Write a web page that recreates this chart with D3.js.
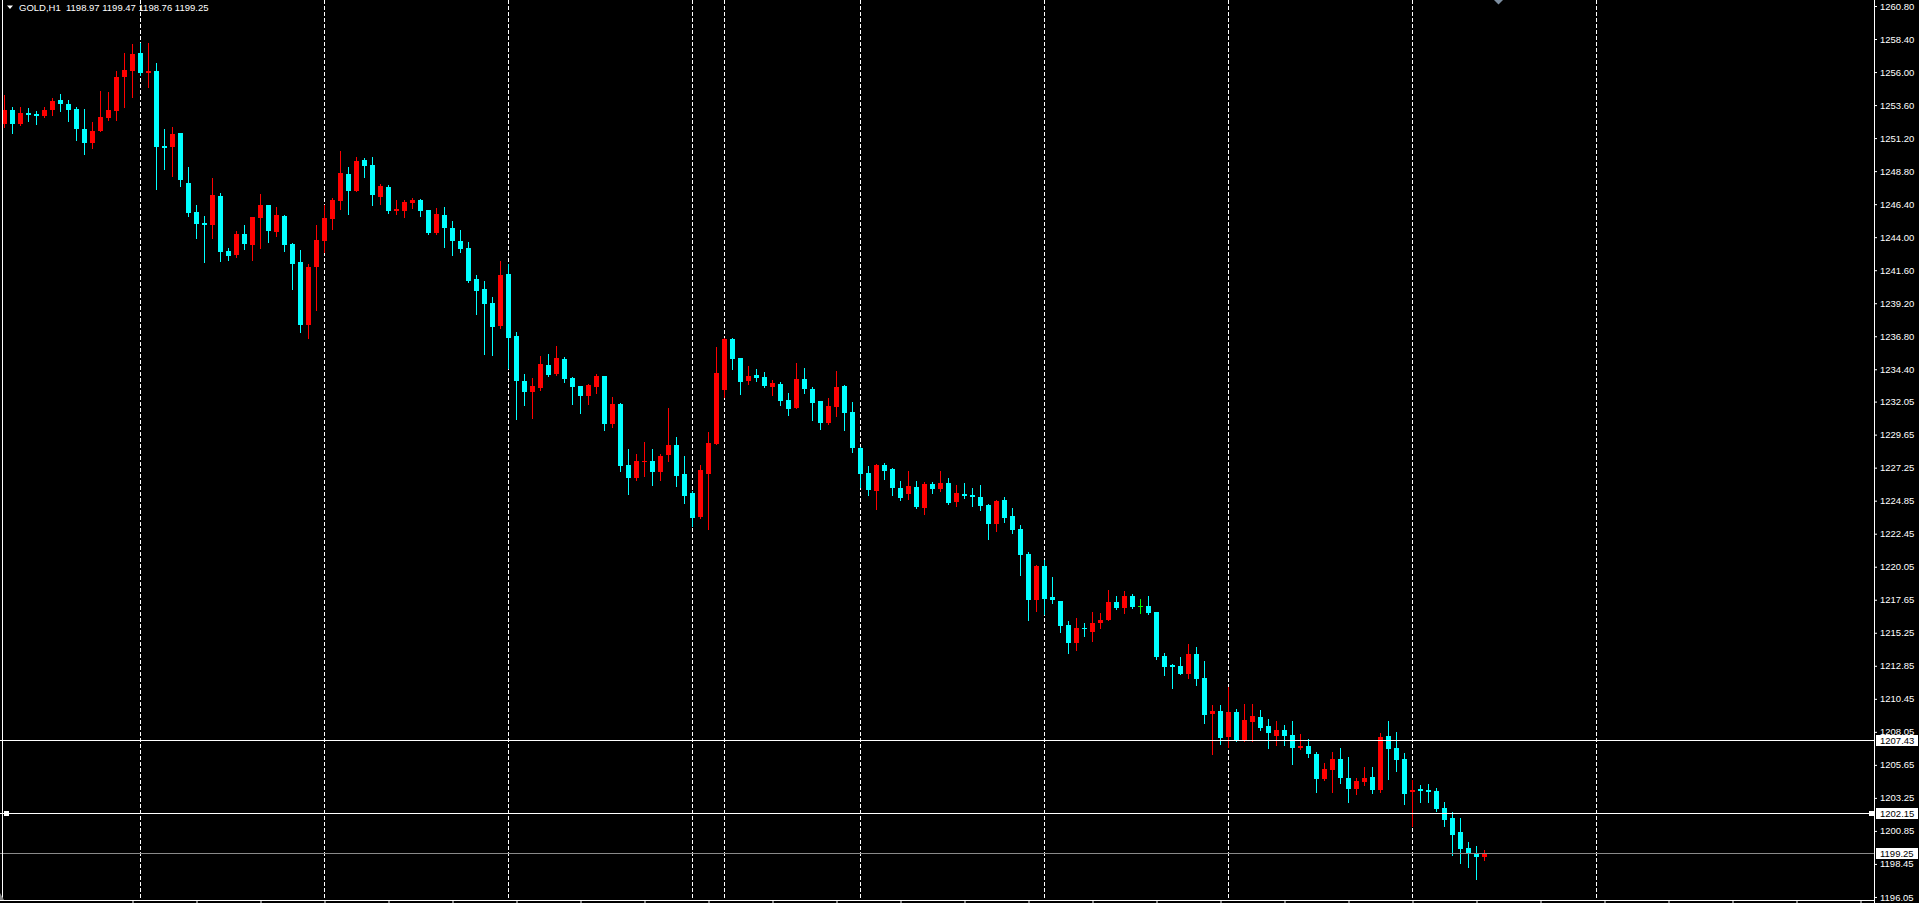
<!DOCTYPE html>
<html><head><meta charset="utf-8">
<script src="https://cdn.jsdelivr.net/npm/d3@7"></script>
<style>html,body{margin:0;padding:0;background:#000;overflow:hidden}svg{display:block}
text{font-family:"Liberation Sans",Arial,sans-serif;}</style>
</head><body><svg id="c" width="1919" height="903"></svg>
<script>
const symbolTitle = "GOLD,H1";
const lastOHLC = ["1198.97","1199.47","1198.76","1199.25"];

const opens = [
1252.23,1253.24,1252.23,1253.03,1252.96,1252.81,1253.24,1253.97,1253.68,1253.32,
1251.86,1250.85,1251.72,1252.67,1253.17,1255.64,1256.08,1257.39,1255.94,1256.08,
1250.65,1250.58,1251.57,1247.94,1245.83,1245.06,1244.89,1247.00,1243.00,1242.71,
1244.24,1243.44,1245.40,1246.34,1244.38,1245.54,1243.51,1242.20,1237.62,1241.84,
1243.73,1245.33,1246.63,1248.60,1247.36,1249.61,1249.25,1246.92,1247.65,1245.91,
1245.91,1246.49,1246.71,1245.98,1244.31,1245.62,1244.67,1243.73,1243.22,1240.96,
1240.24,1239.22,1237.55,1241.33,1236.82,1233.55,1232.75,1233.04,1234.72,1234.06,
1235.15,1233.77,1233.19,1232.46,1233.12,1233.92,1230.43,1231.88,1227.45,1226.50,
1227.72,1227.74,1226.94,1228.18,1228.90,1226.79,1225.41,1223.67,1226.79,1228.97,
1232.90,1236.61,1235.22,1233.55,1233.99,1233.84,1233.12,1233.34,1232.17,1231.59,
1233.70,1232.97,1232.09,1230.50,1231.66,1233.19,1231.30,1228.68,1226.86,1225.56,
1227.45,1227.16,1225.78,1225.34,1225.85,1224.32,1226.07,1225.70,1226.14,1224.76,
1225.34,1225.27,1225.12,1224.54,1223.16,1224.91,1223.74,1222.80,1220.98,1217.64,
1220.11,1217.86,1217.57,1215.82,1214.51,1215.60,1215.31,1215.97,1216.19,1217.49,
1217.06,1217.93,1217.20,1217.20,1216.77,1213.56,1212.91,1212.84,1212.26,1213.71,
1211.97,1209.35,1209.57,1207.68,1209.50,1207.46,1208.77,1209.13,1208.48,1207.75,
1208.19,1207.82,1206.88,1207.02,1206.44,1204.62,1205.28,1206.08,1204.70,1203.90,
1204.41,1204.77,1203.83,1207.75,1206.88,1206.08,1203.68,1203.90,1203.83,1203.75,
1202.52,1201.79,1200.77,1199.61,1199.25,1198.97];

const highs = [
1254.33,1253.44,1253.44,1253.39,1253.17,1253.44,1254.12,1254.41,1253.97,1253.44,
1253.32,1252.37,1254.63,1254.55,1256.08,1257.39,1258.04,1258.12,1258.12,1256.66,
1251.86,1252.01,1251.57,1249.10,1246.34,1245.54,1248.30,1247.22,1243.22,1244.45,
1244.89,1245.47,1247.14,1246.34,1246.20,1245.62,1243.58,1243.07,1242.05,1244.89,
1246.34,1246.85,1250.27,1249.10,1249.83,1249.76,1249.83,1247.87,1247.80,1246.71,
1246.71,1246.85,1246.78,1245.98,1246.13,1246.20,1245.18,1244.53,1243.65,1241.26,
1240.82,1239.66,1242.27,1242.05,1237.11,1234.06,1233.77,1235.37,1235.51,1236.10,
1235.30,1233.84,1233.19,1233.34,1234.06,1233.92,1232.39,1231.95,1228.61,1228.25,
1229.12,1228.61,1228.25,1231.59,1229.48,1228.10,1225.56,1227.45,1229.85,1236.02,
1236.68,1236.68,1235.22,1234.64,1234.42,1234.20,1233.62,1233.48,1232.68,1234.86,
1234.50,1233.12,1232.09,1232.32,1234.28,1233.26,1232.03,1228.76,1227.38,1227.52,
1227.59,1227.23,1226.29,1227.01,1226.29,1226.21,1226.21,1227.01,1226.50,1226.00,
1226.14,1225.78,1226.00,1224.61,1224.91,1225.12,1224.32,1223.09,1221.13,1220.18,
1220.55,1219.31,1217.57,1216.11,1216.33,1215.97,1216.77,1216.69,1218.37,1217.93,
1218.29,1218.07,1217.71,1217.93,1216.77,1213.79,1212.98,1213.49,1214.44,1214.22,
1213.20,1210.00,1210.00,1211.31,1209.71,1210.08,1210.08,1209.64,1208.99,1208.84,
1208.55,1208.84,1207.90,1207.53,1206.59,1205.79,1206.59,1206.88,1206.22,1204.70,
1205.50,1205.50,1207.97,1208.84,1208.04,1206.52,1204.55,1204.19,1204.26,1203.97,
1202.95,1202.23,1201.79,1200.05,1199.76,1199.47];

const lows = [
1252.03,1251.59,1252.16,1252.47,1252.25,1252.74,1252.88,1253.17,1252.47,1251.06,
1250.05,1250.49,1251.72,1252.52,1252.52,1253.46,1254.19,1255.79,1254.92,1247.51,
1248.96,1248.45,1247.72,1245.54,1243.94,1242.20,1243.94,1242.27,1242.35,1242.56,
1243.15,1242.35,1243.22,1243.65,1244.09,1243.00,1240.24,1237.11,1236.68,1238.71,
1242.93,1244.60,1246.05,1245.69,1247.36,1248.38,1246.34,1246.42,1245.76,1245.69,
1245.47,1246.13,1245.54,1244.24,1244.24,1243.29,1242.71,1242.93,1240.75,1238.42,
1235.51,1235.44,1237.40,1234.50,1230.79,1231.81,1230.86,1232.90,1233.92,1233.99,
1233.48,1231.88,1231.23,1231.88,1232.68,1229.99,1230.21,1227.01,1225.34,1226.36,
1226.65,1226.00,1226.36,1227.74,1225.92,1224.69,1223.01,1223.60,1222.80,1228.97,
1232.39,1234.42,1232.61,1233.34,1233.55,1233.12,1232.53,1231.81,1231.08,1231.59,
1232.68,1230.72,1230.06,1230.43,1231.01,1229.99,1228.39,1225.85,1225.27,1224.25,
1226.43,1225.27,1224.91,1224.98,1224.32,1223.89,1225.41,1225.56,1224.61,1224.47,
1225.05,1224.47,1224.17,1222.07,1222.65,1223.30,1222.50,1219.45,1216.19,1216.84,
1216.62,1217.42,1215.31,1213.79,1214.00,1215.02,1214.66,1215.60,1216.19,1216.98,
1216.69,1217.06,1216.69,1216.62,1213.35,1212.18,1211.24,1212.26,1211.97,1211.46,
1208.70,1206.44,1207.17,1206.95,1207.39,1207.39,1207.39,1208.19,1206.88,1207.10,
1207.10,1205.72,1206.81,1206.22,1203.68,1204.55,1203.68,1204.33,1202.95,1203.54,
1204.19,1203.61,1203.68,1204.62,1205.21,1202.81,1201.21,1202.95,1202.95,1202.30,
1201.21,1199.10,1198.52,1198.23,1197.36,1198.76];

const closes = [
1253.24,1252.23,1253.03,1252.88,1252.81,1253.24,1253.90,1253.68,1253.24,1251.86,
1250.85,1251.72,1252.74,1253.24,1255.64,1256.15,1257.32,1255.94,1256.08,1250.58,
1250.51,1251.50,1248.16,1245.76,1244.96,1244.91,1247.07,1242.93,1242.64,1244.24,
1243.51,1245.47,1246.34,1244.45,1245.62,1243.44,1242.05,1237.62,1241.84,1243.80,
1245.40,1246.71,1248.67,1247.36,1249.54,1249.18,1247.07,1247.72,1245.91,1246.05,
1246.56,1246.71,1245.91,1244.31,1245.69,1244.67,1243.73,1243.15,1240.82,1240.09,
1239.15,1237.48,1241.26,1236.68,1233.55,1232.75,1233.19,1234.79,1233.99,1235.22,
1233.70,1233.12,1232.46,1233.26,1233.92,1230.43,1231.88,1227.38,1226.50,1227.74,
1227.76,1226.94,1228.10,1228.90,1226.65,1225.20,1223.60,1227.09,1229.05,1234.13,
1236.61,1235.15,1233.48,1233.92,1233.77,1233.19,1233.40,1232.09,1231.51,1233.70,
1232.97,1231.95,1230.50,1231.74,1233.12,1231.23,1228.68,1226.79,1225.63,1227.45,
1227.01,1225.78,1225.05,1225.92,1224.40,1226.07,1225.70,1226.14,1224.69,1225.41,
1225.20,1225.12,1224.47,1223.16,1224.83,1223.60,1222.72,1220.91,1217.64,1220.11,
1217.71,1217.64,1215.75,1214.51,1215.60,1215.53,1215.97,1216.19,1217.49,1217.06,
1217.93,1217.13,1217.20,1216.69,1213.49,1212.76,1212.76,1212.26,1213.71,1211.90,
1209.28,1209.57,1207.61,1209.50,1207.39,1208.91,1209.20,1208.33,1207.97,1208.19,
1207.75,1206.88,1207.02,1206.44,1204.62,1205.35,1206.08,1204.70,1203.90,1204.48,
1204.70,1203.83,1207.68,1206.81,1206.01,1203.54,1203.83,1203.75,1203.68,1202.45,
1201.65,1200.56,1199.54,1199.18,1198.97,1199.25];

const separatorBars = [17,40,63,86,90,107,130,153,176,199];
const timeTickBars = [16,24,32,40,48,56,64,72,80,88,96,104,112,120,128,136,144,152,160,168,176,184,192,200,208,216,224,232];
const priceTicks = ["1260.80","1258.40","1256.00","1253.60","1251.20","1248.80","1246.40","1244.00","1241.60","1239.20","1236.80","1234.40","1232.05","1229.65","1227.25","1224.85","1222.45","1220.05","1217.65","1215.25","1212.85","1210.45","1208.05","1205.65","1203.25","1200.85","1198.45","1196.05"];
const levelLines = ["1207.43","1202.15"];
const bidLine = "1199.25";

const FS = "9.5px";
const svg = d3.select("#c");
svg.append("rect").attr("width",1919).attr("height",903).attr("fill","#000");

const x = d3.scaleLinear().domain([0,232]).range([4.5,1860.5]);
const y = d3.scaleLinear().domain([1196.05,1260.80]).range([896.96,6]);
const AXIS_X = 1874, BOTTOM_Y = 900;

// period separators
svg.append("g").selectAll("line").data(separatorBars).join("line")
  .attr("x1",d=>x(d)).attr("x2",d=>x(d)).attr("y1",0).attr("y2",BOTTOM_Y)
  .attr("stroke","#fff").attr("stroke-width",1).attr("stroke-dasharray","4,2")
  .attr("shape-rendering","crispEdges");

// candles
const bars = d3.range(opens.length).map(i=>({i,o:opens[i],h:highs[i],l:lows[i],c:closes[i]}));
const col = d=> d.c>d.o ? "#ff0000" : (d.c<d.o ? "#00ffff" : "#00ff00");
const cg = svg.append("g").attr("shape-rendering","crispEdges");
cg.selectAll("line").data(bars).join("line")
  .attr("x1",d=>x(d.i)).attr("x2",d=>x(d.i))
  .attr("y1",d=>Math.round(y(d.h))).attr("y2",d=>Math.round(y(d.l))+1)
  .attr("stroke",col).attr("stroke-width",1);
cg.selectAll("rect").data(bars).join("rect")
  .attr("x",d=>x(d.i)-2.5).attr("width",5)
  .attr("y",d=>Math.round(y(Math.max(d.o,d.c))))
  .attr("height",d=>Math.max(1,Math.round(y(Math.min(d.o,d.c)))-Math.round(y(Math.max(d.o,d.c)))))
  .attr("fill",col);

// horizontal level lines
const lg = svg.append("g").attr("shape-rendering","crispEdges");
levelLines.forEach(v=>{
  const yy = Math.round(y(+v))+0.5;
  lg.append("line").attr("x1",0).attr("x2",AXIS_X).attr("y1",yy).attr("y2",yy).attr("stroke","#fff");
});
{
  const yy = Math.round(y(+bidLine))+0.5;
  lg.append("line").attr("x1",0).attr("x2",AXIS_X).attr("y1",yy).attr("y2",yy).attr("stroke","#8a8a8a");
}
// selected-object markers on 1202.15
{
  const yy = Math.round(y(+levelLines[1]));
  lg.append("rect").attr("x",4).attr("y",yy-2).attr("width",5).attr("height",5).attr("fill","#fff");
  lg.append("rect").attr("x",1869).attr("y",yy-2).attr("width",5).attr("height",5).attr("fill","#fff");
}

// frame lines
svg.append("line").attr("x1",2.5).attr("x2",2.5).attr("y1",0).attr("y2",BOTTOM_Y).attr("stroke","#fff");
svg.append("line").attr("x1",AXIS_X+0.5).attr("x2",AXIS_X+0.5).attr("y1",0).attr("y2",903).attr("stroke","#fff");
svg.append("line").attr("x1",0).attr("x2",AXIS_X).attr("y1",BOTTOM_Y+0.5).attr("y2",BOTTOM_Y+0.5).attr("stroke","#fff");

// price axis
const ya = svg.append("g").attr("transform",`translate(${AXIS_X},0)`)
  .call(d3.axisRight(y).tickValues(priceTicks.map(Number)).tickFormat((d,i)=>priceTicks[i]).tickSize(3).tickSizeOuter(0));
ya.select(".domain").remove();
ya.selectAll(".tick line").attr("stroke","#fff");
ya.selectAll(".tick text").attr("fill","#fff").attr("font-size",FS).attr("font-family","Liberation Sans, Arial, sans-serif");

// time axis ticks
const xa = svg.append("g").attr("transform",`translate(0,${BOTTOM_Y})`)
  .call(d3.axisBottom(x).tickValues(timeTickBars).tickFormat("").tickSize(3).tickSizeOuter(0));
xa.select(".domain").remove();
xa.selectAll(".tick line").attr("stroke","#fff");

// price labels for lines
const boxes = levelLines.concat([bidLine]);
const bg = svg.append("g");
boxes.forEach(v=>{
  const yy = Math.round(y(+v));
  bg.append("rect").attr("x",AXIS_X+2).attr("y",yy-5).attr("width",42).attr("height",11).attr("fill","#fff").attr("shape-rendering","crispEdges");
  bg.append("text").attr("x",AXIS_X+6).attr("y",yy+0.5).attr("dy","0.35em").attr("fill","#000").attr("font-size",FS).text(v);
});

// title
svg.append("path").attr("d","M7,5.5L13,5.5L10,9Z").attr("fill","#fff");
svg.append("text").attr("x",19).attr("y",11).attr("fill","#fff").attr("font-size",FS)
  .style("white-space","pre").text(symbolTitle+"  "+lastOHLC.join(" "));

// chart shift marker & corner marker
svg.append("path").attr("d","M1494,0L1503,0L1498.5,4.5Z").attr("fill","#7d8ea0");
svg.append("path").attr("d","M0,893L0,900L4,900Z").attr("fill","#808080");
</script></body></html>
